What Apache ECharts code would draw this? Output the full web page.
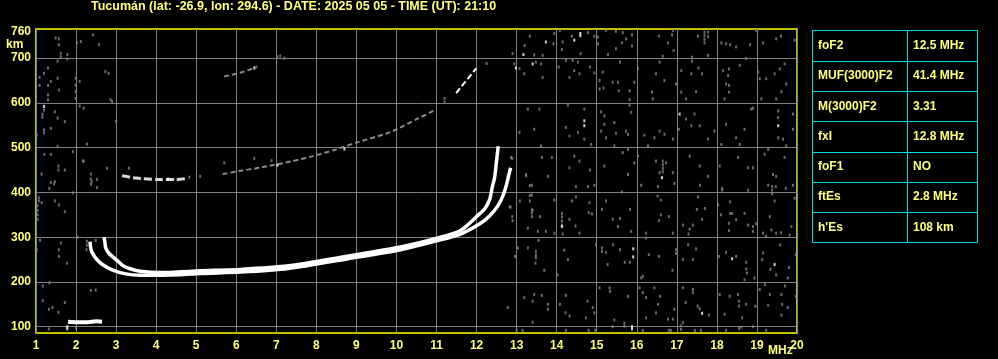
<!DOCTYPE html>
<html><head><meta charset="utf-8">
<script src="https://cdn.jsdelivr.net/npm/echarts@6/dist/echarts.min.js"></script>
<style>html,body{margin:0;padding:0;background:#000}#c{width:998px;height:359px}</style>
</head><body><div id="c"></div>
<script>
const titleText = 'Tucumán (lat: -26.9, lon: 294.6) - DATE: 2025 05 05 - TIME (UT): 21:10';
const yTickValues = [100, 200, 300, 400, 500, 600, 700];
const yLabelValues = [100, 200, 300, 400, 500, 600, 700, 760];
const xMin = 1, xMax = 20, yMin = 86, yMax = 765;

// F2 traces (MHz, km)
const traceA = [[2.35,290],[2.36,279],[2.39,268],[2.5,252],[2.64,240],[2.9,227],[3.24,218],[3.6,215],[4.1,215],[4.6,216],[5.1,219],[6.1,222],[7.3,230],[8.8,252],[10.1,272],[11.1,294],[11.6,307],[12.08,330],[12.33,348],[12.53,370],[12.66,393],[12.74,415],[12.81,441],[12.85,455]];
const traceB = [[2.7,300],[2.72,289],[2.74,276],[2.83,263],[3.0,250],[3.16,237],[3.33,230],[3.6,224],[4.1,221],[5.1,225],[6.1,228],[7.3,236],[8.8,258],[10.1,278],[11.1,300],[11.6,315],[11.85,333],[12.0,346],[12.2,363],[12.33,385],[12.39,411],[12.45,433],[12.49,463],[12.54,503]];
const esTrace = [[1.8,111],[2.0,110],[2.3,110],[2.5,112],[2.65,111]];
const hop2a = [[3.15,437],[3.5,432],[4.0,429],[4.5,429],[4.75,431]];
const hop2b = [[5.66,441],[6.08,448],[6.58,455],[7.41,470],[7.91,481],[8.49,496],[8.99,511],[9.66,529],[9.91,537],[10.49,563],[10.99,585]];
const hop2c = [[11.49,622],[11.99,677]];
const hop3 = [[5.7,659],[5.95,664],[6.2,670],[6.45,678]];

const noiseGrey = [
[1.49,745],[1.57,743],[1.57,730],[1.62,711],[1.62,703],[2.02,734],[2.12,737],[2.42,752],[2.57,730],[1.54,693],[1.3,678],[1.2,666],[1.09,657],[1.09,639],[1.3,639],[1.37,648],[1.54,655],[1.57,629],[1.99,655],[1.99,640],[1.99,625],[1.99,610],[2.09,648],[1.3,618],[1.3,607],[1.2,584],[1.16,575],[1.16,568],[1.47,580],[1.54,566],[1.72,558],[2.09,593],[2.19,588],[2.86,607],[2.73,670],[1.2,540],[1.2,533],[1.37,543],[1.02,528],[1.54,503],[1.21,485],[1.37,485],[2.27,508],[2.19,470],[1.92,491],[1.14,441],[1.56,459],[1.56,450],[1.72,450],[1.37,422],[1.47,424],[1.45,419],[2.37,441],[2.37,430],[2.37,418],[2.39,424],[1.33,409],[1.92,399],[1.07,388],[1.07,381],[1.04,370],[1.04,360],[1.04,350],[1.04,340],[1.14,377],[1.47,381],[1.57,372],[1.72,357],[2.27,291],[2.27,282],[2.26,272],[2.49,293],[1.62,287],[1.57,272],[1.57,257],[1.77,242],[1.02,272],[1.1,293],[2.04,300],[1.17,191],[1.34,198],[2.37,181],[1.17,158],[1.32,139],[1.41,143],[1.56,132],[1.72,154],[1.32,95],[2.0,97],
[1.78,708],[1.78,698],[2.81,666],[2.9,603],[3.0,559],[2.17,470],[2.77,454],[3.32,454],[2.52,429],[2.52,411],[4.83,434],[5.1,436],[5.7,466],[6.45,476],[6.88,471],[6.5,680],[7.03,703],[7.1,705],[7.2,700],[11.2,610],[11.2,602],[12.25,688],[2.49,182],
[12.89,476],[12.85,367],[12.89,346],[13.24,437],[13.33,415],[13.33,393],[13.4,360],
[12.9,710],[13.2,728],[13.33,749],[13.44,707],[13.65,706],[13.92,732],[13.94,755],[14.08,762],[14.15,736],[14.13,719],[14.38,749],[14.78,757],[14.6,710],[14.94,749],[15.03,747],[15.03,732],[15.23,762],[15.48,760],[15.65,757],[15.88,752],[15.73,743],[15.63,734],[15.48,721],[15.28,708],[15.88,727],[16.55,749],[16.9,762],[16.88,752],[16.78,734],[16.92,717],[16.65,704],[17.69,758],[17.69,750],[17.69,742],[17.69,734],[17.78,758],[17.78,748],[17.53,749],[17.38,702],[17.78,706],[18.11,734],[18.23,732],[18.33,730],[18.48,725],[18.83,730],[18.98,762],[19.15,734],[19.48,743],[19.6,749],[19.94,740],
[12.94,687],[13.07,676],[13.19,665],[13.48,691],[13.65,657],[13.61,687],[14.05,680],[14.23,695],[14.53,691],[14.4,695],[14.44,672],[14.32,657],[14.57,665],[14.83,680],[14.94,667],[15.15,669],[15.07,650],[15.4,646],[15.53,646],[15.55,627],[15.07,631],[15.17,633],[15.82,627],[15.94,646],[15.58,691],[15.82,607],[16.03,676],[16.48,665],[16.69,650],[16.57,691],[16.38,624],[16.4,609],[16.98,642],[17.11,672],[17.36,665],[17.54,678],[17.63,665],[17.38,693],[17.11,624],[17.48,625],[17.23,609],[18.15,672],[18.3,676],[18.28,661],[18.23,642],[18.3,639],[18.3,624],[18.19,609],[18.57,684],[18.73,699],[19.03,669],[19.07,654],[19.23,654],[19.44,665],[19.57,676],[19.69,687],[19.73,642],[19.61,625],[19.48,609],[19.11,609],
[13.28,586],[13.44,541],[13.57,586],[13.07,534],[13.61,504],[14.28,595],[14.69,586],[14.23,545],[14.32,526],[14.69,519],[14.53,534],[14.86,507],[15.11,580],[15.19,571],[15.19,552],[15.44,556],[15.11,537],[15.23,522],[15.48,532],[15.78,530],[15.73,537],[15.44,504],[15.82,595],[15.86,579],[16.19,528],[16.44,522],[16.28,504],[16.9,519],[16.69,530],[16.57,537],[17.23,564],[17.36,549],[17.57,549],[17.05,541],[17.78,519],[17.94,537],[17.44,575],[18.11,507],[18.23,552],[18.48,522],[18.57,507],[18.69,541],[18.86,586],[18.9,588],[19.53,582],[19.53,567],[19.65,519],[19.73,504],[19.9,575],[19.9,541],[19.53,522],
[12.86,478],[13.23,440],[13.63,478],[13.88,478],[13.78,436],[14.44,481],[14.57,470],[14.32,455],[14.83,450],[15.65,489],[15.78,496],[15.19,459],[15.78,440],[15.94,466],[16.03,481],[16.48,470],[16.65,470],[16.65,462],[16.65,454],[16.65,446],[16.73,466],[16.57,444],[16.9,444],[17.32,481],[17.57,459],[17.78,436],[18.07,459],[18.53,478],[18.78,455],[18.9,455],[19.28,496],[19.19,485],[19.69,478],[19.4,440],[19.48,436],
[13.38,416],[14.48,413],[14.78,413],[14.94,416],[15.63,401],[16.11,416],[16.53,413],[16.94,420],[17.58,416],[18.13,409],[18.78,405],[19.28,416],[19.38,413],[19.38,405],[19.38,397],[19.72,409],[19.9,416],
[12.83,368],[13.08,381],[13.38,394],[13.38,361],[13.38,354],[13.38,346],[13.33,381],[13.58,346],[12.9,337],[13.28,320],[13.53,313],[13.73,313],[13.94,383],[13.94,309],[14.13,353],[14.13,345],[14.13,336],[14.13,327],[14.15,307],[14.32,340],[14.38,381],[14.48,390],[14.47,325],[14.82,377],[14.8,355],[14.88,352],[14.57,309],[15.23,381],[15.13,362],[15.4,340],[15.53,324],[15.58,342],[15.83,362],[15.86,313],[16.23,309],[16.23,298],[16.52,392],[16.6,383],[16.6,350],[16.55,337],[16.8,346],[16.9,309],[17.15,327],[17.32,318],[17.4,327],[17.5,362],[17.29,307],[17.63,340],[17.7,364],[17.53,390],[18.03,372],[18.13,405],[18.33,379],[18.33,353],[18.38,353],[18.1,350],[18.3,331],[18.3,315],[18.69,353],[18.78,327],[18.9,324],[18.9,313],[18.98,330],[18.48,339],[19.15,309],[19.23,302],[19.36,316],[19.6,310],[19.48,309],[19.82,305],[19.86,324],[19.47,413],[19.32,346],[19.44,381],[19.94,387],
[13.03,276],[13.28,276],[12.96,257],[13.48,268],[13.48,260],[13.48,254],[13.55,293],[13.47,242],[13.69,226],[14.02,216],[14.19,271],[14.28,250],[14.98,283],[15.13,276],[15.13,268],[15.23,266],[15.41,283],[15.58,272],[15.7,244],[15.83,244],[15.27,239],[16.15,213],[16.11,209],[16.3,261],[16.55,257],[16.98,272],[16.98,264],[17.15,250],[17.4,250],[17.48,274],[17.28,283],[16.89,226],[18.05,257],[18.23,266],[18.48,257],[18.73,244],[18.73,229],[18.75,220],[18.94,209],[18.69,205],[19.15,265],[19.13,250],[19.48,216],[19.58,283],[19.77,209],[19.97,261],[19.8,232],[19.34,228],
[12.78,143],[13.19,165],[13.44,172],[13.63,170],[13.78,150],[13.78,139],[13.4,157],[13.4,110],[14.08,150],[14.23,170],[14.22,131],[14.32,124],[14.73,120],[14.77,157],[14.9,143],[14.94,131],[15.07,187],[15.32,187],[15.33,179],[15.44,115],[15.69,108],[15.69,101],[15.78,168],[16.07,187],[16.15,176],[16.23,165],[16.44,187],[16.53,150],[16.48,131],[16.78,117],[16.9,117],[16.94,139],[16.23,120],[16.58,168],[17.15,187],[17.4,183],[17.4,176],[17.52,146],[17.57,140],[17.8,126],[17.15,109],[17.1,102],[17.22,154],[18.07,172],[18.19,128],[18.32,168],[18.53,172],[18.55,157],[18.55,146],[18.73,150],[18.63,120],[18.61,99],[18.96,146],[19.07,183],[19.2,194],[19.32,172],[19.28,148],[19.61,172],[19.63,150],[19.7,191],[19.77,143],[19.97,168],[19.61,126],
[13.0,92],[13.15,92],[14.23,92],[14.8,92],[14.97,92],[15.4,100],[16.15,92],[16.8,92],[16.85,92],[17.1,94],[17.45,92],[17.6,92],[18.23,92],[18.55,96],[18.9,100],[19.23,92]
];
const noiseWhite = [[13.17,708],[13.73,736],[14.44,740],[14.59,755],[14.59,750],[12.98,678],[13.4,687],[14.69,560],[14.69,549],[17.07,575],[19.53,549],[12.82,448],[12.78,436],[16.63,433],[14.13,324],[15.91,274],[15.91,256],[18.38,252],[19.44,239],[17.63,130],[15.88,100],[15.88,95],[1.2,592],[1.78,100],[1.78,95],[6.45,678],[4.3,430],[7.03,461],[8.7,497]];

const tableLabels = ['foF2', 'MUF(3000)F2', 'M(3000)F2', 'fxI', 'foF1', 'ftEs', "h'Es"];
const tableValues = ['12.5 MHz', '41.4 MHz', '3.31', '12.8 MHz', 'NO', '2.8 MHz', '108 km'];

const YEL = '#ffff80';
const FONT = 'Liberation Sans';

const chart = echarts.init(document.getElementById('c'), null, {renderer: 'canvas'});

function txt(opts, text, size) {
  return Object.assign({type: 'text', style: {text: text, fill: YEL, fontSize: size, fontWeight: 'bold', fontFamily: FONT}}, opts);
}
const graphics = [
  txt({left: 91, top: 0}, titleText, 12.5),
  txt({left: 6, top: 39}, 'km', 12),
  txt({left: 768, top: 345}, 'MHz', 12)
];
const tX = 812.5, tY = 30.5, tW = 165, rowH = 30.3, tDiv = 907.5;
const nRows = tableLabels.length;
graphics.push({type: 'rect', shape: {x: tX, y: tY, width: tW, height: rowH * nRows}, style: {fill: null, stroke: '#00e0e0', lineWidth: 1}});
graphics.push({type: 'line', shape: {x1: tDiv, y1: tY, x2: tDiv, y2: tY + rowH * nRows}, style: {stroke: '#00e0e0', lineWidth: 1}});
for (let i = 0; i < nRows; i++) {
  if (i > 0) {
    const yy = Math.round(tY + rowH * i) + 0.5;
    graphics.push({type: 'line', shape: {x1: tX, y1: yy, x2: tX + tW, y2: yy}, style: {stroke: '#00e0e0', lineWidth: 1}});
  }
  const cy = tY + rowH * i + rowH / 2;
  graphics.push({type: 'text', x: 818, y: cy, style: {text: tableLabels[i], fill: YEL, fontSize: 12, fontWeight: 'bold', fontFamily: FONT, verticalAlign: 'middle'}});
  graphics.push({type: 'text', x: 913, y: cy, style: {text: tableValues[i], fill: YEL, fontSize: 12, fontWeight: 'bold', fontFamily: FONT, verticalAlign: 'middle'}});
}

function lineSeries(data, color, width, type, z) {
  return {type: 'line', data: data, symbol: 'none', smooth: 0.2, silent: true,
    lineStyle: {color: color, width: width, type: type || 'solid'}, z: z || 4};
}

chart.setOption({
  backgroundColor: '#000',
  animation: false,
  grid: {left: 36, width: 761, top: 29, height: 304, show: true, borderColor: '#ffff00', borderWidth: 1.5, backgroundColor: 'transparent'},
  xAxis: {type: 'value', min: xMin, max: xMax, interval: 1,
    axisLine: {show: false}, axisTick: {show: false},
    axisLabel: {color: YEL, fontSize: 12, fontWeight: 'bold', fontFamily: FONT, margin: 7, showMinLabel: true, showMaxLabel: true},
    splitLine: {show: true, lineStyle: {color: '#808080', width: 1}}},
  yAxis: {type: 'value', min: yMin, max: yMax,
    axisLine: {show: false},
    axisTick: {show: false, customValues: yTickValues},
    axisLabel: {color: YEL, fontSize: 12, fontWeight: 'bold', fontFamily: FONT, margin: 5, customValues: yLabelValues, showMaxLabel: true},
    splitLine: {show: true, lineStyle: {color: '#808080', width: 1}}},
  graphic: graphics,
  series: [
    {type: 'scatter', data: noiseGrey, symbol: 'rect', symbolSize: [2, 3], itemStyle: {color: '#858585'}, silent: true, z: 2},
    lineSeries(hop3, '#8a8a8a', 2, [5, 3], 3),
    lineSeries(hop2a, '#d8d8d8', 3, [8, 3], 3),
    lineSeries(hop2b, '#8a8a8a', 2, [5, 3], 3),
    lineSeries(hop2c, '#ffffff', 2, [6, 3], 3),
    lineSeries(esTrace, '#ffffff', 4, 'solid', 4),
    lineSeries(traceA, '#ffffff', 3.5, 'solid', 5),
    lineSeries(traceB, '#ffffff', 3.5, 'solid', 5),
    {type: 'scatter', data: noiseWhite, symbol: 'rect', symbolSize: [2, 3], itemStyle: {color: '#ffffff'}, silent: true, z: 6}
  ]
});
</script>
</body></html>
